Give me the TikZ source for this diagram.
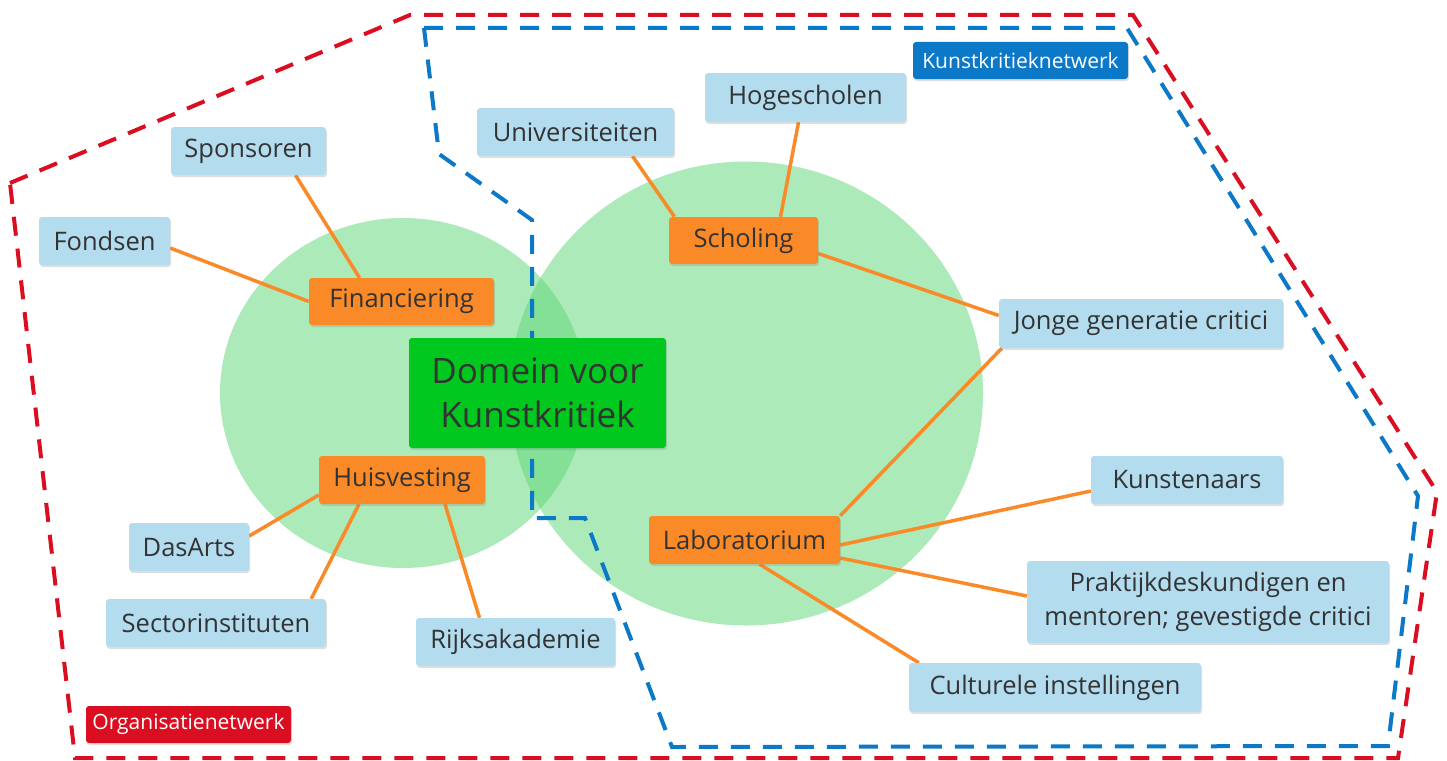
\documentclass[tikz,border=0pt]{standalone}
\usepackage{fontspec}
\setmainfont{Open Sans}
\usetikzlibrary{backgrounds,shadows}

\definecolor{boxblue}{RGB}{179,220,239}
\definecolor{boxorange}{RGB}{250,137,40}
\definecolor{boxgreen}{RGB}{0,200,30}
\definecolor{netblue}{RGB}{12,120,200}
\definecolor{netred}{RGB}{218,14,32}
\definecolor{fieldgreen}{RGB}{90,214,115}
\definecolor{textgray}{RGB}{51,51,51}

\tikzset{
  card/.style={rectangle,rounded corners=3pt,inner sep=0pt,text=textgray,
    font=\fontsize{25.5}{30}\selectfont,
    drop shadow={opacity=0.25,shadow xshift=1pt,shadow yshift=-2pt}},
  actor/.style={card,fill=boxblue},
  theme/.style={card,fill=boxorange},
  netlabel/.style={card,text=white,font=\fontsize{21}{24}\selectfont},
  link/.style={boxorange,line width=3.5pt},
  field/.style={fill=fieldgreen,fill opacity=0.5},
  border/.style={line width=4pt,dash pattern=on 19pt off 13pt}
}

\begin{document}
\begin{tikzpicture}[x=1pt,y=-1pt,line join=round]
  \useasboundingbox (0,0) rectangle (1447,760);

  % The central domain and its four themes.
  \node[card,fill=boxgreen,minimum width=257pt,minimum height=110pt,align=center,
    font=\fontsize{35}{44}\selectfont] (domein) at (537.5,393) {Domein voor\\Kunstkritiek};
  \node[theme,minimum width=185pt,minimum height=47pt] (financiering) at (401.5,301.5) {Financiering};
  \node[theme,minimum width=166pt,minimum height=48pt] (huisvesting) at (402,480) {Huisvesting};
  \node[theme,minimum width=149pt,minimum height=47pt] (scholing) at (743.5,240.5) {Scholing};
  \node[theme,minimum width=191pt,minimum height=48pt] (laboratorium) at (744.5,540) {Laboratorium};

  % Partners around the themes.
  \node[actor,minimum width=155pt,minimum height=48pt] (sponsoren) at (248.5,151) {Sponsoren};
  \node[actor,minimum width=131pt,minimum height=48pt] (fondsen) at (104.5,241) {Fondsen};
  \node[actor,minimum width=197pt,minimum height=48pt] (universiteiten) at (575.5,132) {Universiteiten};
  \node[actor,minimum width=201pt,minimum height=49pt] (hogescholen) at (805.5,97.5) {Hogescholen};
  \node[actor,minimum width=284pt,minimum height=49pt] (jonge) at (1141,323.5) {Jonge generatie critici};
  \node[actor,minimum width=192pt,minimum height=48pt] (kunstenaars) at (1187,480) {Kunstenaars};
  \node[actor,minimum width=362pt,minimum height=82pt,align=center,
    font=\fontsize{25.5}{34}\selectfont] (praktijk) at (1208,602) {Praktijkdeskundigen en\\mentoren; gevestigde critici};
  \node[actor,minimum width=292pt,minimum height=49pt] (culturele) at (1055,687.5) {Culturele instellingen};
  \node[actor,minimum width=120pt,minimum height=48pt] (dasarts) at (189,547) {DasArts};
  \node[actor,minimum width=220pt,minimum height=48pt] (sectorinstituten) at (216,623) {Sectorinstituten};
  \node[actor,minimum width=199pt,minimum height=48pt] (rijksakademie) at (515.5,642) {Rijksakademie};

  % Network tags.
  \node[netlabel,fill=netblue,minimum width=215pt,minimum height=37pt] (kunstnet) at (1020.5,60.5) {Kunstkritieknetwerk};
  \node[netlabel,fill=netred,minimum width=205pt,minimum height=37pt] (orgnet) at (188.5,724.5) {Organisatienetwerk};

  \begin{pgfonlayer}{background}
    % Two overlapping fields.
    \fill[field] (403,393) ellipse[x radius=183,y radius=175];
    \fill[field] (746,393.5) ellipse[x radius=237,y radius=232];

    % Network borders.
    \draw[border,netred] (10,183) -- (410,15) -- (1133,15) -- (1437,492)
      -- (1398,758) -- (75,758) -- cycle;
    \draw[border,netblue] (424,28) -- (1127,28) -- (1418,496) -- (1388,746)
      -- (672,747) -- (585,518) -- (532,518) -- (532,220) -- (439,154) -- cycle;

    % Links from themes to partners.
    \draw[link] ([yshift=-7pt]fondsen.east) -- (financiering.west);
    \draw[link] ([xshift=47pt]sponsoren.south) -- ([xshift=-42pt]financiering.north);
    \draw[link] ([xshift=57pt]universiteiten.south) -- ([xshift=-69pt]scholing.north);
    \draw[link] ([xshift=-7pt]hogescholen.south) -- ([xshift=37pt]scholing.north);
    \draw[link] ([yshift=-13pt]scholing.east) -- ([yshift=8pt]jonge.west);
    \draw[link] ([xshift=3pt]jonge.south west) -- (laboratorium.north east);
    \draw[link] ([yshift=-5pt]laboratorium.east) -- ([yshift=-11pt]kunstenaars.west);
    \draw[link] ([yshift=-18pt]laboratorium.east) -- ([yshift=6pt]praktijk.west);
    \draw[link] ([xshift=15pt]laboratorium.south) -- ([xshift=10pt]culturele.north west);
    \draw[link] ([yshift=-15pt]huisvesting.west) -- ([yshift=11pt]dasarts.east);
    \draw[link] ([xshift=-43pt]huisvesting.south) -- ([xshift=-15pt]sectorinstituten.north east);
    \draw[link] ([xshift=43pt]huisvesting.south) -- ([xshift=-36pt]rijksakademie.north);
  \end{pgfonlayer}
\end{tikzpicture}
\end{document}
